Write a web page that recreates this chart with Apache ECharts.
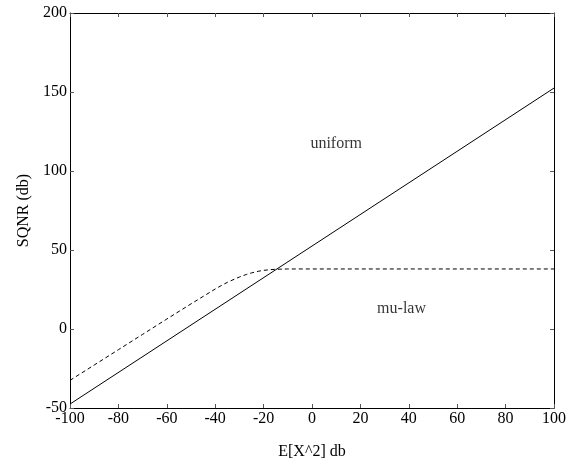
<!DOCTYPE html>
<html><head><meta charset="utf-8">
<script src="https://cdn.jsdelivr.net/npm/echarts@6/dist/echarts.min.js"></script>
<style>html,body{margin:0;padding:0;background:#fff}#c{width:569px;height:465px}</style>
</head><body><div id="c"></div>
<script>
const xTicks = [-100,-80,-60,-40,-20,0,20,40,60,80,100];
const yTicks = [-50,0,50,100,150,200];
const uniformX = [-100, 100];
const uniformY = [-47.5, 152.5];
const mulawX = [-100,-90,-80,-70,-60,-50,-47,-45,-42,-40,-37,-35,-32,-30,-27,-25,-22,-20,-17,-15,-10,0,20,40,60,80,100];
const mulawY = [-32.5,-22.8,-13.1,-3.4,6.3,15.9,18.7,20.6,23.4,25.3,27.9,29.5,31.6,32.9,34.6,35.5,36.6,37.1,37.6,37.8,38,38,38,38,38,38,38];
const labelText = ['uniform','mu-law'];
const labelX = [10, 37];
const labelY = [117.5, 12.5];

const font = 'Liberation Serif';
const chart = echarts.init(document.getElementById('c'));
const axisCommon = {
  axisLine:{show:true,onZero:false,lineStyle:{color:'#000',width:1}},
  axisTick:{show:true,inside:true,length:4,lineStyle:{color:'#555'}},
  splitLine:{show:false}
};
chart.setOption({
  animation:false,
  grid:{left:70,right:13,top:13,bottom:57,containLabel:false},
  xAxis:[
    Object.assign({}, axisCommon, {type:'value',min:-100,max:100,interval:20,position:'bottom',
      name:'E[X^2] db',nameLocation:'middle',nameGap:36,
      nameTextStyle:{fontFamily:font,fontSize:16,color:'#000'},
      axisLabel:{fontFamily:font,fontSize:16,color:'#000',margin:3}}),
    Object.assign({}, axisCommon, {type:'value',min:-100,max:100,interval:20,position:'top',
      axisLabel:{show:false}})
  ],
  yAxis:[
    Object.assign({}, axisCommon, {type:'value',min:-50,max:200,interval:50,position:'left',
      name:'SQNR (db)',nameLocation:'middle',nameGap:38,
      nameTextStyle:{fontFamily:font,fontSize:16,color:'#000'},
      axisLabel:{fontFamily:font,fontSize:16,color:'#000',margin:3}}),
    Object.assign({}, axisCommon, {type:'value',min:-50,max:200,interval:50,position:'right',
      axisLabel:{show:false}})
  ],
  series:[
    {type:'line',data:uniformX.map((x,i)=>[x,uniformY[i]]),showSymbol:false,
     lineStyle:{color:'#000',width:1}},
    {type:'line',data:mulawX.map((x,i)=>[x,mulawY[i]]),showSymbol:false,
     lineStyle:{color:'#000',width:1,type:[4,3]}},
    {type:'scatter',symbolSize:0,silent:true,
     data:labelText.map((t,i)=>({name:t,value:[labelX[i],labelY[i]]})),
     label:{show:true,position:'inside',fontFamily:font,fontSize:16,color:'#000',formatter:p=>p.name}}
  ]
});
</script></body></html>
